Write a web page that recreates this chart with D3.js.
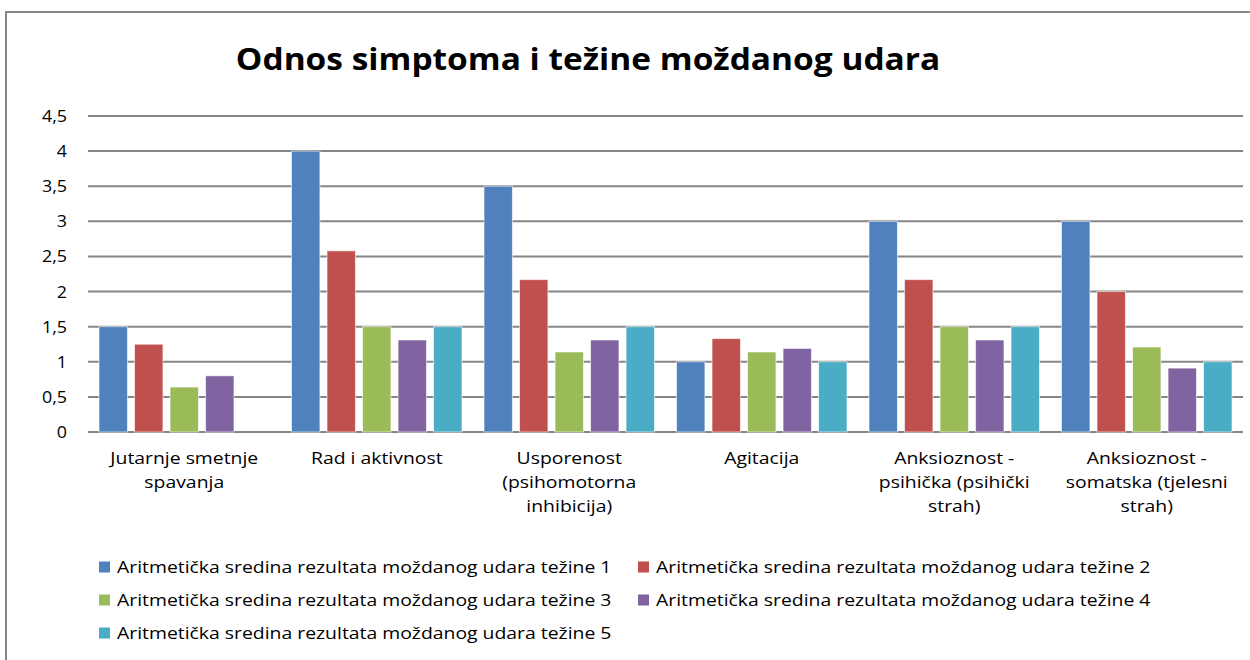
<!DOCTYPE html>
<html>
<head>
<meta charset="utf-8">
<script src="https://cdn.jsdelivr.net/npm/d3@7"></script>
<style>
  html, body { margin: 0; padding: 0; background: #fff; }
  svg { display: block; font-family: 'Open Sans', sans-serif; }
</style>
</head>
<body>
<div id="chart"></div>
<script>
// Odnos simptoma i tezine mozdanog udara - grouped bars, 5 severity levels

const categories = [
	['Jutarnje smetnje', 'spavanja'],
	['Rad i aktivnost'],
	['Usporenost', '(psihomotorna', 'inhibicija)'],
	['Agitacija'],
	['Anksioznost -', 'psihička (psihički', 'strah)'],
	['Anksioznost -', 'somatska (tjelesni', 'strah)']
];

const seriesNames = [
	'Aritmetička sredina rezultata moždanog udara težine 1',
	'Aritmetička sredina rezultata moždanog udara težine 2',
	'Aritmetička sredina rezultata moždanog udara težine 3',
	'Aritmetička sredina rezultata moždanog udara težine 4',
	'Aritmetička sredina rezultata moždanog udara težine 5'
];

const tezina1 = [1.5, 4.0, 3.5, 1.0, 3.0, 3.0];
const tezina2 = [1.25, 2.58, 2.17, 1.33, 2.17, 2.0];
const tezina3 = [0.64, 1.5, 1.14, 1.14, 1.5, 1.21];
const tezina4 = [0.8, 1.31, 1.31, 1.19, 1.31, 0.91];
const tezina5 = [null, 1.5, 1.5, 1.0, 1.5, 1.0];

const yTicks = [0, 0.5, 1, 1.5, 2, 2.5, 3, 3.5, 4, 4.5];

const colors = ['#4F81BD', '#C0504D', '#9BBB59', '#8064A2', '#4BACC6'];

(function() {
	'use strict';

	const width = 1250;
	const height = 660;
	const plot = { left: 88, right: 1243, top: 116, bottom: 432 };
	// reference text looks horizontally stretched, so widen ours a bit
	const stretch = 1.14;

	const allSeries = [tezina1, tezina2, tezina3, tezina4, tezina5];

	const svg = d3.select('#chart').append('svg')
		.attr('width', width)
		.attr('height', height);

	// chart frame (only top and left visible)
	svg.append('path')
		.attr('d', `M6,${height + 5} V12 H${width + 5}`)
		.attr('fill', 'none')
		.attr('stroke', '#868686')
		.attr('stroke-width', 2);

	// Title
	svg.append('text')
		.attr('transform', `translate(588, 70) scale(1.08, 1)`)
		.attr('text-anchor', 'middle')
		.style('font-size', '31px')
		.style('font-weight', '700')
		.style('fill', '#000')
		.text('Odnos simptoma i težine moždanog udara');

	const x0 = d3.scaleBand()
		.domain(d3.range(categories.length))
		.range([plot.left, plot.right])
		.padding(0);

	const x1 = d3.scaleBand()
		.domain(d3.range(allSeries.length))
		.range([0, x0.bandwidth()])
		.paddingInner(0.2)
		.paddingOuter(0.31);

	const y = d3.scaleLinear()
		.domain([0, 4.5])
		.range([plot.bottom, plot.top]);

	// gridlines
	svg.append('g')
		.selectAll('line')
		.data(yTicks)
		.enter()
		.append('line')
		.attr('x1', plot.left)
		.attr('x2', plot.right)
		.attr('y1', d => y(d))
		.attr('y2', d => y(d))
		.attr('stroke', '#868686')
		.attr('stroke-width', 2);

	// y axis labels
	const fmt = d => String(d).replace('.', ',');
	svg.append('g')
		.selectAll('text')
		.data(yTicks)
		.enter()
		.append('text')
		.attr('transform', d => `translate(67, ${y(d)}) scale(1.05, 1)`)
		.attr('dy', '0.35em')
		.attr('text-anchor', 'end')
		.style('font-size', '17px')
		.style('fill', '#000')
		.text(fmt);

	// bars
	const barData = [];
	allSeries.forEach((values, si) => {
		values.forEach((v, ci) => {
			if (v != null) barData.push({ si, ci, v });
		});
	});

	svg.append('g')
		.selectAll('rect')
		.data(barData)
		.enter()
		.append('rect')
		.attr('x', d => x0(d.ci) + x1(d.si))
		.attr('y', d => y(d.v))
		.attr('width', x1.bandwidth())
		.attr('height', d => y(0) - y(d.v))
		.attr('fill', d => colors[d.si])
		.attr('stroke', '#fff')
		.attr('stroke-opacity', 0.6)
		.attr('stroke-width', 1);

	// category labels
	const cat = svg.append('g')
		.selectAll('text')
		.data(categories)
		.enter()
		.append('text')
		.attr('transform', (d, ci) => `translate(${x0(ci) + x0.bandwidth() / 2}, 0) scale(${stretch}, 1)`)
		.attr('text-anchor', 'middle')
		.style('font-size', '17px')
		.style('fill', '#000');

	cat.each(function(lines) {
		d3.select(this).selectAll('tspan')
			.data(lines)
			.enter()
			.append('tspan')
			.attr('x', 0)
			.attr('y', (l, li) => 458 + li * 24)
			.attr('dy', '0.35em')
			.text(l => l);
	});

	// Legend
	const legendItems = seriesNames.map((name, i) => ({ name, color: colors[i] }));
	const li = svg.append('g')
		.selectAll('g')
		.data(legendItems)
		.enter()
		.append('g')
		.attr('transform', (d, i) => `translate(${i % 2 === 0 ? 99 : 638}, ${567 + Math.floor(i / 2) * 33})`);

	li.append('rect')
		.attr('x', 0)
		.attr('y', -5.5)
		.attr('width', 11)
		.attr('height', 11)
		.attr('fill', d => d.color);

	li.append('text')
		.attr('transform', `translate(18, 0) scale(${stretch}, 1)`)
		.attr('dy', '0.35em')
		.style('font-size', '17px')
		.style('fill', '#000')
		.text(d => d.name);
})();
</script>
</body>
</html>
